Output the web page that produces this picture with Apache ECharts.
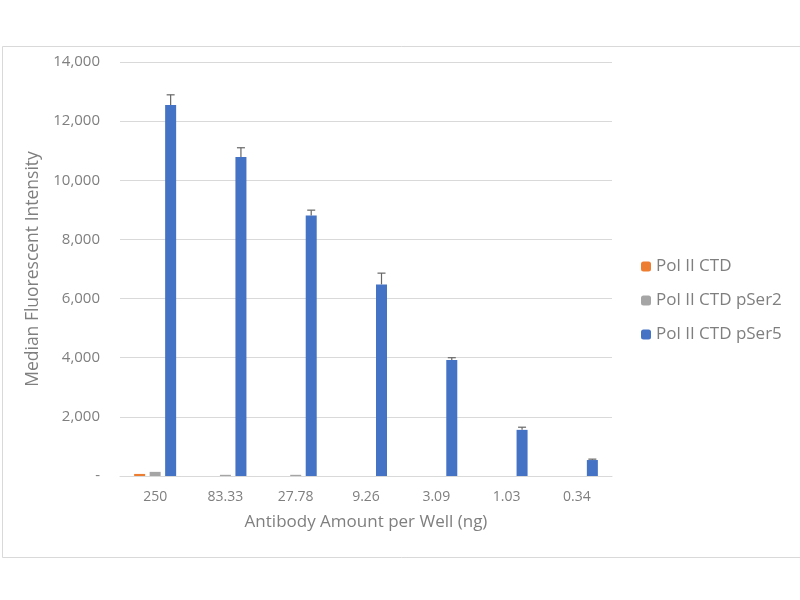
<!DOCTYPE html>
<html>
<head>
<meta charset="utf-8">
<script src="https://cdn.jsdelivr.net/npm/echarts@6/dist/echarts.min.js"></script>
<style>html,body{margin:0;padding:0;background:#fff}#c{width:800px;height:600px}</style>
</head>
<body>
<div id="c"></div>
<script>
const categories = ['250', '83.33', '27.78', '9.26', '3.09', '1.03', '0.34'];
const polCTD = [70, 0, 0, 0, 0, 0, 0];
const polPSer2 = [140, 40, 40, 0, 0, 0, 0];
const polPSer5 = [12550, 10790, 8810, 6480, 3920, 1560, 540];
const polPSer5Err = [340, 310, 180, 380, 80, 90, 30];
const yTicks = [0, 2000, 4000, 6000, 8000, 10000, 12000, 14000];

const chart = echarts.init(document.getElementById('c'));
const BW = 11, GAP = 4.5;
const txt = '#7f7f7f';
const FF = 'Open Sans';
chart.setOption({
  animation: false,
  backgroundColor: '#fff',
  graphic: [{
    type: 'rect', left: 0, top: 44, shape: { width: 799, height: 511 },
    style: { fill: 'none', stroke: '#d9d9d9', lineWidth: 1 }, silent: true, z: -10
  }],
  grid: { left: 120, right: 188, top: 62, bottom: 124 },
  legend: {
    orient: 'vertical', left: 636, top: 253, itemWidth: 10, itemHeight: 10, itemGap: 17,
    textStyle: { color: txt, fontSize: 17, fontFamily: FF },
    data: ['Pol II CTD', 'Pol II CTD pSer2', 'Pol II CTD pSer5']
  },
  xAxis: {
    type: 'category', data: categories,
    name: 'Antibody Amount per Well (ng)', nameLocation: 'middle', nameGap: 38,
    nameTextStyle: { color: txt, fontSize: 17, fontFamily: FF },
    axisLine: { lineStyle: { color: '#d9d9d9' } }, axisTick: { show: false },
    axisLabel: { color: txt, fontSize: 14, margin: 14, fontFamily: FF }
  },
  yAxis: {
    type: 'value', min: 0, max: 14000, interval: 2000,
    name: 'Median Fluorescent Intensity', nameLocation: 'middle', nameGap: 75,
    nameTextStyle: { color: txt, fontSize: 17.5, fontFamily: FF },
    axisLine: { show: false }, axisTick: { show: false },
    splitLine: { lineStyle: { color: '#d9d9d9' } },
    axisLabel: {
      color: txt, fontSize: 15, margin: 20, fontFamily: FF,
      formatter: v => yTicks.includes(v) ? (v === 0 ? '-' : v.toLocaleString('en-US')) : ''
    }
  },
  series: [
    { name: 'Pol II CTD', type: 'bar', data: polCTD, barWidth: BW, barGap: (GAP / BW * 100) + '%', itemStyle: { color: '#ED7D31' } },
    { name: 'Pol II CTD pSer2', type: 'bar', data: polPSer2, barWidth: BW, barGap: (GAP / BW * 100) + '%', itemStyle: { color: '#A5A5A5' } },
    { name: 'Pol II CTD pSer5', type: 'bar', data: polPSer5, barWidth: BW, barGap: (GAP / BW * 100) + '%', itemStyle: { color: '#4472C4' } },
    {
      type: 'custom', name: 'err', z: 10,
      data: polPSer5.map((v, i) => [i, v, polPSer5Err[i]]),
      renderItem: (params, api) => {
        const i = api.value(0), v = api.value(1), e = api.value(2);
        const off = BW + GAP;
        const p0 = api.coord([i, v]);
        const p1 = api.coord([i, v + e]);
        const x = p0[0] + off;
        return {
          type: 'group', children: [
            { type: 'line', shape: { x1: x, y1: p0[1], x2: x, y2: p1[1] }, style: { stroke: '#666', lineWidth: 1.2 } },
            { type: 'line', shape: { x1: x - 4, y1: p1[1], x2: x + 4, y2: p1[1] }, style: { stroke: '#666', lineWidth: 1.2 } }
          ]
        };
      }
    }
  ]
});
</script>
</body>
</html>
